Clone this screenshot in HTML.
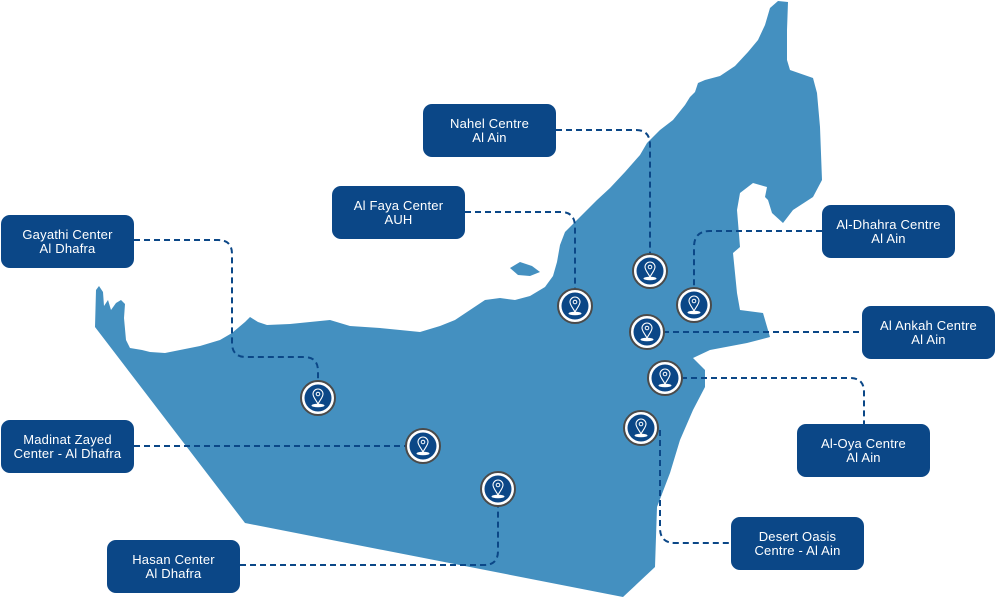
<!DOCTYPE html>
<html><head><meta charset="utf-8"><style>
html,body{margin:0;padding:0;background:#fff;width:995px;height:599px;overflow:hidden}
.b{position:absolute;width:133px;height:53px;background:#0b4787;border-radius:9px;color:#fff;font-family:"Liberation Sans",sans-serif;font-size:13px;line-height:14px;display:flex;align-items:center;justify-content:center;text-align:center;letter-spacing:.2px}
</style></head><body>
<svg width="995" height="599" style="position:absolute;left:0;top:0">
<polygon fill="#4490c0" points="95,327 96,290 99,286 103,292 104,306 108,300 111,310 116,303 121,300 125,304 124,318 126,340 130,348 142,350 150,352 165,353 180,350 200,346 220,340 232,333 245,322 250,317 258,322 267,325 290,324 310,322 330,320 350,326 380,328 400,330 420,332 440,326 455,320 470,310 485,300 500,298 515,300 530,296 545,287 553,276 557,262 560,245 565,232 575,222 585,212 597,200 610,188 625,172 640,155 647,143 660,130 673,120 685,105 690,97 695,92 698,83 705,80 720,76 735,66 748,52 758,40 765,25 770,8 778,1 788,2 787,30 787,60 790,70 813,78 817,93 820,127 822,180 813,197 793,210 783,223 772,213 768,200 765,197 767,187 753,183 740,193 737,210 740,247 733,253 737,293 740,310 763,313 770,337 747,343 710,350 693,358 705,370 705,387 693,410 680,440 670,473 657,507 655,567 623,597 245,523"/>
<polygon fill="#4490c0" points="510,268 520,262 532,266 540,272 530,276 518,275"/>
<g fill="none" stroke="#0b4787" stroke-width="2" stroke-dasharray="6,4">
<path d="M556,130 H636 Q650,130 650,145 V255"/>
<path d="M465,212 H561 Q575,212 575,227 V290"/>
<path d="M134,240 H218 Q232,240 232,254 V343 Q232,357 246,357 H304 Q318,357 318,371 V382"/>
<path d="M822,231 H710 Q694,231 694,247 V288"/>
<path d="M663,332 H862"/>
<path d="M681,378 H850 Q864,378 864,392 V424"/>
<path d="M134,446 H407"/>
<path d="M240,565 H484 Q498,565 498,551 V505"/>
<path d="M660,430 V528 Q660,543 675,543 H731"/>
</g>
<defs><g id="p">
<circle r="17" fill="#fff" stroke="#4a4a4a" stroke-width="2"/>
<circle r="13.5" fill="#0b4787"/>
<path d="M0,6 C-2,2 -5,-1 -5,-4 A5,5 0 0 1 5,-4 C5,-1 2,2 0,6Z" fill="none" stroke="#fff" stroke-width="1.1"/>
<circle cy="-4" r="1.8" fill="none" stroke="#fff" stroke-width="1"/>
<ellipse cy="7.5" rx="6.5" ry="1.8" fill="#fff"/>
</g></defs>
<use href="#p" x="318" y="398"/><use href="#p" x="423" y="446"/><use href="#p" x="498" y="489"/>
<use href="#p" x="575" y="306"/><use href="#p" x="650" y="271"/><use href="#p" x="694" y="305"/>
<use href="#p" x="647" y="332"/><use href="#p" x="665" y="378"/><use href="#p" x="641" y="428"/>
</svg>
<div class="b" style="left:423px;top:104px">Nahel Centre<br>Al Ain</div>
<div class="b" style="left:332px;top:186px">Al Faya Center<br>AUH</div>
<div class="b" style="left:1px;top:215px">Gayathi Center<br>Al Dhafra</div>
<div class="b" style="left:822px;top:205px">Al-Dhahra Centre<br>Al Ain</div>
<div class="b" style="left:862px;top:306px">Al Ankah Centre<br>Al Ain</div>
<div class="b" style="left:797px;top:424px">Al-Oya Centre<br>Al Ain</div>
<div class="b" style="left:1px;top:420px">Madinat Zayed<br>Center - Al Dhafra</div>
<div class="b" style="left:107px;top:540px">Hasan Center<br>Al Dhafra</div>
<div class="b" style="left:731px;top:517px">Desert Oasis<br>Centre - Al Ain</div>
</body></html>
